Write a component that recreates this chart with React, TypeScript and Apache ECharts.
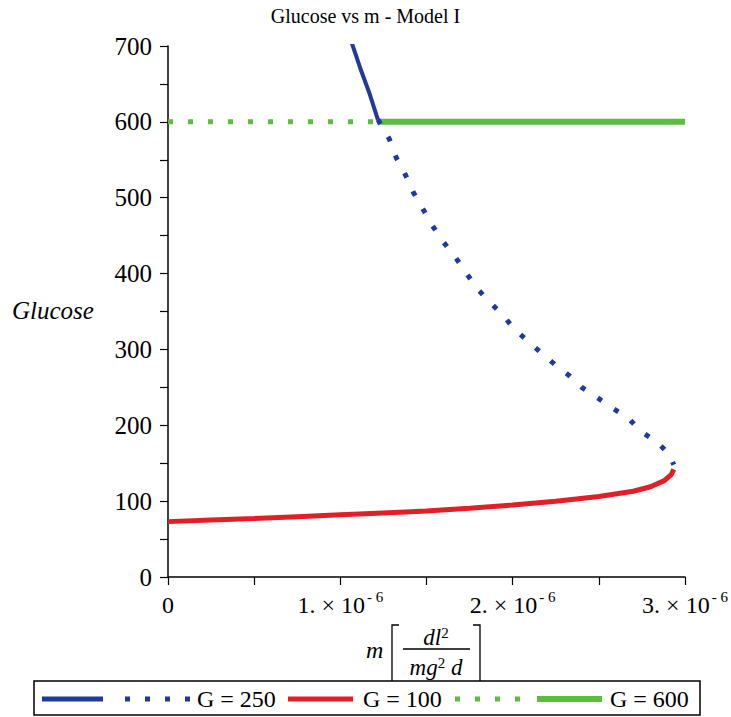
import React, { useEffect, useRef } from "react";
import * as echarts from "echarts";

const chartTitle = "Glucose vs m - Model I";
const yName = "Glucose";
const legendLabels = ["G = 250", "G = 100", "G = 600"];

// G = 250, stable branch (solid)
const g250StableM = [1.065e-6, 1.12e-6, 1.17e-6, 1.218e-6];
const g250StableG = [705, 668, 637, 603];
// G = 250, unstable branch (dotted)
const g250UnstableM = [
  1.218e-6, 1.285e-6, 1.326e-6, 1.378e-6, 1.424e-6, 1.477e-6, 1.535e-6, 1.593e-6,
  1.663e-6, 1.727e-6, 1.791e-6, 1.86e-6, 1.936e-6, 2.006e-6, 2.087e-6, 2.169e-6,
  2.25e-6, 2.331e-6, 2.401e-6, 2.488e-6, 2.576e-6, 2.669e-6, 2.744e-6, 2.837e-6,
  2.907e-6, 2.935e-6,
];
const g250UnstableG = [
  603, 577, 552, 530, 507, 486, 463, 443, 423, 402, 381, 364, 347, 328, 311, 295,
  279, 265, 250, 237, 223, 210, 192, 178, 162, 148,
];
// G = 100 (solid)
const g100M = [
  0, 0.25e-6, 0.5e-6, 0.75e-6, 1.0e-6, 1.25e-6, 1.5e-6, 1.75e-6, 2.0e-6, 2.25e-6,
  2.5e-6, 2.7e-6, 2.8e-6, 2.88e-6, 2.92e-6, 2.935e-6,
];
const g100G = [73, 75, 77, 79.5, 82, 84.5, 87, 90.5, 95, 100, 106, 113, 119, 127, 135, 142];
// G = 600
const g600DottedM = [0, 1.218e-6];
const g600DottedG = [600, 600];
const g600SolidM = [1.218e-6, 3e-6];
const g600SolidG = [600, 600];

const BLUE = "#22399c";
const RED = "#e31e26";
const GREEN = "#5dbd41";
const SERIF = '"Liberation Serif", "Times New Roman", serif';

const zip = (xs: number[], ys: number[]) => xs.map((x, i) => [x, ys[i]]);

export default function App() {
  const ref = useRef<HTMLDivElement>(null);
  useEffect(() => {
    if (!ref.current) return;
    const chart = echarts.init(ref.current, null, { renderer: "svg" });
    const lineBase = { type: "line", showSymbol: false, symbol: "none", silent: true, clip: true };
    chart.setOption({
      animation: false,
      backgroundColor: "#ffffff",
      title: {
        text: chartTitle,
        left: "center",
        top: 1,
        textStyle: { fontFamily: SERIF, fontSize: 20, fontWeight: "normal", color: "#000" },
      },
      grid: { left: 168, right: 46, top: 46, bottom: 140, containLabel: false },
      xAxis: {
        type: "value",
        min: 0,
        max: 3e-6,
        interval: 1e-6,
        splitLine: { show: false },
        axisLine: { show: true, onZero: false, lineStyle: { color: "#000", width: 1.5 } },
        axisTick: { show: true, length: 8, lineStyle: { color: "#000", width: 1.2 } },
        minorTick: { show: true, splitNumber: 2, length: 8, lineStyle: { color: "#000", width: 1.2 } },
        axisLabel: {
          margin: 12,
          color: "#000",
          fontFamily: SERIF,
          fontSize: 24,
          formatter: (v: number) => {
            const n = Math.round(v * 1e6);
            if (n === 0) return "{a|0}";
            return `{a|${n}. × 10}{s|- 6}`;
          },
          rich: {
            a: { fontFamily: SERIF, fontSize: 24, color: "#000", lineHeight: 28, verticalAlign: "bottom" },
            s: { fontFamily: SERIF, fontSize: 15, color: "#000", lineHeight: 28, verticalAlign: "top", padding: [0, 0, 0, 2] },
          },
        },
      },
      yAxis: {
        type: "value",
        min: 0,
        max: 700,
        interval: 100,
        splitLine: { show: false },
        axisLine: { show: true, lineStyle: { color: "#000", width: 1.5 } },
        axisTick: { show: true, length: 8, lineStyle: { color: "#000", width: 1.2 } },
        minorTick: { show: true, splitNumber: 2, length: 8, lineStyle: { color: "#000", width: 1.2 } },
        axisLabel: { margin: 16, color: "#000", fontFamily: SERIF, fontSize: 25 },
      },
      series: [
        { ...lineBase, name: "G = 600 dotted", data: zip(g600DottedM, g600DottedG), lineStyle: { color: GREEN, width: 5, type: [5, 15], cap: "butt" } },
        { ...lineBase, name: "G = 600", data: zip(g600SolidM, g600SolidG), lineStyle: { color: GREEN, width: 6 } },
        { ...lineBase, name: "G = 100", data: zip(g100M, g100G), lineStyle: { color: RED, width: 5 } },
        { ...lineBase, name: "G = 250 dotted", data: zip(g250UnstableM, g250UnstableG), lineStyle: { color: BLUE, width: 5, type: [5, 15], cap: "butt" } },
        { ...lineBase, name: "G = 250", data: zip(g250StableM, g250StableG), lineStyle: { color: BLUE, width: 4 } },
      ],
      graphic: [
        {
          type: "text",
          left: 12,
          top: 298,
          style: { text: yName, fontFamily: SERIF, fontSize: 25, fontStyle: "italic", fill: "#000" },
        },
        // x axis name: m [ dl^2 / (mg^2 d) ]
        {
          type: "text",
          x: 366,
          y: 650,
          style: { text: "m", fontFamily: SERIF, fontSize: 24, fontStyle: "italic", fill: "#000", verticalAlign: "middle" },
        },
        { type: "polyline", shape: { points: [[399, 625], [392, 625], [392, 681]] }, style: { stroke: "#000", lineWidth: 1.3, fill: "none" } },
        { type: "polyline", shape: { points: [[473, 625], [480, 625], [480, 681]] }, style: { stroke: "#000", lineWidth: 1.3, fill: "none" } },
        {
          type: "text",
          x: 436,
          y: 637,
          style: {
            text: "{a|dl}{s|2}",
            align: "center",
            verticalAlign: "middle",
            rich: {
              a: { fontFamily: SERIF, fontSize: 23, fontStyle: "italic", fill: "#000", lineHeight: 24, verticalAlign: "bottom" },
              s: { fontFamily: SERIF, fontSize: 15, fill: "#000", lineHeight: 24, verticalAlign: "top" },
            },
          },
        },
        { type: "line", shape: { x1: 403, y1: 649, x2: 470, y2: 649 }, style: { stroke: "#000", lineWidth: 1.3 } },
        {
          type: "text",
          x: 436,
          y: 667,
          style: {
            text: "{a|mg}{s|2}{a| d}",
            align: "center",
            verticalAlign: "middle",
            rich: {
              a: { fontFamily: SERIF, fontSize: 23, fontStyle: "italic", fill: "#000", lineHeight: 24, verticalAlign: "bottom" },
              s: { fontFamily: SERIF, fontSize: 15, fill: "#000", lineHeight: 24, verticalAlign: "top" },
            },
          },
        },
        // legend box
        { type: "rect", shape: { x: 34, y: 681, width: 666, height: 34 }, style: { fill: "#fff", stroke: "#000", lineWidth: 1.5 } },
        { type: "line", shape: { x1: 42, y1: 699, x2: 103, y2: 699 }, style: { stroke: BLUE, lineWidth: 5 } },
        { type: "line", shape: { x1: 125, y1: 699, x2: 190, y2: 699 }, style: { stroke: BLUE, lineWidth: 5, lineDash: [5, 15] } },
        { type: "text", x: 197, y: 699, style: { text: legendLabels[0], fontFamily: SERIF, fontSize: 24, fill: "#000", verticalAlign: "middle" } },
        { type: "line", shape: { x1: 288, y1: 699, x2: 353, y2: 699 }, style: { stroke: RED, lineWidth: 5 } },
        { type: "text", x: 363, y: 699, style: { text: legendLabels[1], fontFamily: SERIF, fontSize: 24, fill: "#000", verticalAlign: "middle" } },
        { type: "line", shape: { x1: 455, y1: 699, x2: 520, y2: 699 }, style: { stroke: GREEN, lineWidth: 5, lineDash: [5, 15] } },
        { type: "line", shape: { x1: 537, y1: 699, x2: 602, y2: 699 }, style: { stroke: GREEN, lineWidth: 6 } },
        { type: "text", x: 610, y: 699, style: { text: legendLabels[2], fontFamily: SERIF, fontSize: 24, fill: "#000", verticalAlign: "middle" } },
      ],
    });
    return () => chart.dispose();
  }, []);
  return (
    <div
      ref={ref}
      style={{ position: "fixed", left: 0, top: 0, width: 731, height: 717, background: "#fff" }}
    />
  );
}
